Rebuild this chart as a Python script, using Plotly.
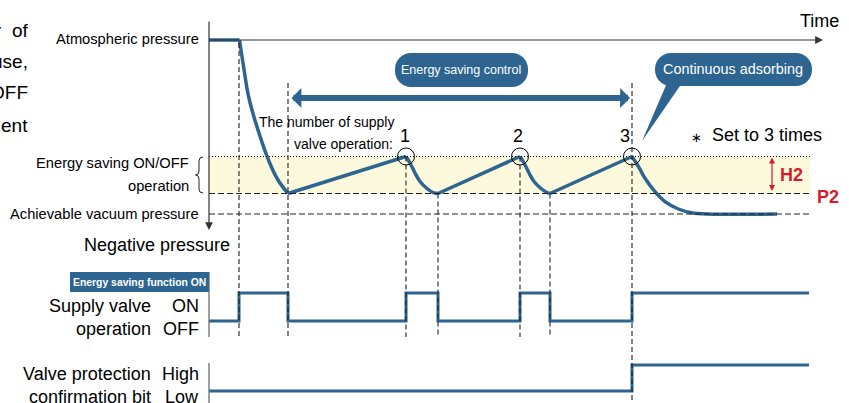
import plotly.graph_objects as go

# ---------------- data (time / pressure in arbitrary units) ----------------
p_atmospheric = 36.3
p_onoff_top = 24.65     # P2 + H2
p_p2 = 20.95
p_achievable = 18.9

hold_t = [0.0, 3.05]
hold_p = [36.3, 36.3]
drop_t = [3.05, 3.4, 3.97, 4.9, 6.07, 6.9, 7.9]
drop_p = [36.3, 34.0, 30.6, 27.3, 24.0, 22.3, 20.95]
rise1_t = [7.9, 19.7]
rise1_p = [20.95, 24.65]
fall1_t = [19.7, 20.1, 20.6, 21.1, 21.8, 22.4, 22.9]
fall1_p = [24.65, 24.0, 23.0, 22.15, 21.45, 21.05, 20.95]
rise2_t = [22.9, 31.1]
rise2_p = [20.95, 24.65]
fall2_t = [31.1, 31.5, 32.0, 32.5, 33.2, 33.8, 34.1]
fall2_p = [24.65, 24.0, 23.0, 22.15, 21.45, 21.05, 20.95]
rise3_t = [34.1, 42.3]
rise3_p = [20.95, 24.65]
final_t = [42.3, 42.95, 43.6, 44.6, 45.6, 46.93, 48.27, 49.9, 56.8]
final_p = [24.65, 23.63, 22.47, 21.13, 20.13, 19.4, 19.03, 18.9, 18.9]

peak_t = [19.7, 31.1, 42.3]
peak_p = [24.65, 24.65, 24.65]
peak_labels = ["1", "2", "3"]

valve_t = [0.0, 3.0, 7.9, 19.7, 22.9, 31.1, 34.1, 42.3, 60.0]
valve_state = [0, 1, 0, 1, 0, 1, 0, 1, 1]
protect_t = [0.0, 42.3, 60.0]
protect_state = [0, 1, 1]

guide_t = [3.0, 7.9, 19.7, 22.9, 31.1, 34.1, 42.3]
guide_top = [36.0, 32.0, 24.65, 20.95, 24.65, 20.95, 32.0]
guide_bottom = [6.6, 6.6, 6.6, 6.6, 6.6, 6.6, 0.0]
t_end = 60.1
control_start, control_end = 8.1, 42.1

# ---------------- styling ----------------
W, H = 849, 403
BLUE = "#2d6590"
RED = "#d91a2a"
NARROW = "Liberation Sans, Arial, sans-serif"
REG = "Liberation Sans, Arial, sans-serif"


def sig_axis(px0, px1, top_px, bot_px):
    k = 1.0 / (px0 - px1)
    return dict(domain=[(H - bot_px) / H, (H - top_px) / H],
                range=[-(bot_px - px0) * k, (px0 - top_px) * k],
                visible=False, anchor="x", fixedrange=True)


fig = go.Figure()

segments = [(hold_t, hold_p, "linear"), (drop_t, drop_p, "spline"),
            (rise1_t, rise1_p, "linear"), (fall1_t, fall1_p, "spline"),
            (rise2_t, rise2_p, "linear"), (fall2_t, fall2_p, "spline"),
            (rise3_t, rise3_p, "linear"), (final_t, final_p, "spline")]
for t, p, shp in segments:
    fig.add_trace(go.Scatter(x=t, y=p, mode="lines", hoverinfo="skip",
                             line=dict(color=BLUE, width=3.5, shape=shp)))

fig.add_trace(go.Scatter(x=peak_t, y=peak_p, mode="markers", hoverinfo="skip",
                         marker=dict(symbol="circle-open", size=17, color="black",
                                     line=dict(width=1, color="black"))))

fig.add_trace(go.Scatter(x=valve_t, y=valve_state, yaxis="y2", mode="lines",
                         hoverinfo="skip", line=dict(color=BLUE, width=3, shape="hv")))
fig.add_trace(go.Scatter(x=protect_t, y=protect_state, yaxis="y3", mode="lines",
                         hoverinfo="skip", line=dict(color=BLUE, width=3, shape="hv")))

shapes = []
shapes.append(dict(type="rect", xref="x", yref="y", x0=0, x1=t_end, y0=p_p2, y1=p_onoff_top,
                   fillcolor="#fdf9dd", line=dict(width=0), layer="below"))
shapes.append(dict(type="line", xref="x", yref="y", x0=0, x1=t_end, y0=p_onoff_top, y1=p_onoff_top,
                   line=dict(color="black", width=1, dash="1px,2px")))
for lvl in (p_p2, p_achievable):
    shapes.append(dict(type="line", xref="x", yref="y", x0=0, x1=t_end, y0=lvl, y1=lvl,
                       line=dict(color="#222", width=1.2, dash="6px,3px")))
for t, a, b in zip(guide_t, guide_top, guide_bottom):
    shapes.append(dict(type="line", xref="x", yref="y", x0=t, x1=t, y0=a, y1=b,
                       line=dict(color="#222", width=1.1, dash="5px,3px")))
shapes.append(dict(type="line", xref="x", yref="y", x0=0, x1=0, y0=13.1, y1=6.6,
                   line=dict(color="#777", width=1.4)))
shapes.append(dict(type="line", xref="x", yref="y", x0=0, x1=0, y0=4.0, y1=0,
                   line=dict(color="#777", width=1.4)))
shapes.append(dict(type="path", xref="x", yref="y",
                   path="M-0.6,24.6 Q-1.0,24.6 -1.0,24.2 L-1.0,23.2 Q-1.0,22.8 -1.35,22.8 "
                        "Q-1.0,22.8 -1.0,22.4 L-1.0,21.4 Q-1.0,21.0 -0.6,21.0",
                   line=dict(color="#222", width=1)))


def rounded_rect(x0, x1, y0, y1, r):
    k = 0.5523 * r
    return (f"M{x0+r},{y0} L{x1-r},{y0} C{x1-r+k},{y0} {x1},{y0+r-k} {x1},{y0+r} "
            f"L{x1},{y1-r} C{x1},{y1-r+k} {x1-r+k},{y1} {x1-r},{y1} "
            f"L{x0+r},{y1} C{x0+r-k},{y1} {x0},{y1-r+k} {x0},{y1-r} "
            f"L{x0},{y0+r} C{x0},{y0+r-k} {x0+r-k},{y0} {x0+r},{y0} Z")


shapes.append(dict(type="path", xref="x", yref="y", path=rounded_rect(18.6, 31.9, 31.6, 35.0, 1.6),
                   fillcolor=BLUE, line=dict(width=0)))
shapes.append(dict(type="path", xref="x", yref="y", path=rounded_rect(44.6, 60.3, 31.7, 35.0, 1.6),
                   fillcolor=BLUE, line=dict(width=0)))
shapes.append(dict(type="path", xref="x", yref="y", path="M45.8,32.0 L43.3,26.2 L47.3,32.0 Z",
                   fillcolor=BLUE, line=dict(width=0)))
shapes.append(dict(type="rect", xref="x", yref="y", x0=-13.9, x1=0, y0=11.1, y1=13.1,
                   fillcolor=BLUE, line=dict(width=0)))

ann = []


def text(x, y, s, size=18, family=REG, color="black", anchor="center", bold=False, **kw):
    if bold:
        s = f"<b>{s}</b>"
    ann.append(dict(x=x, y=y, xref="x", yref="y", text=s, showarrow=False,
                    xanchor=anchor, yanchor="middle",
                    font=dict(size=size, family=family, color=color), **kw))


def arrow(x, y, ax, ay, color, width, head, size, both=False):
    d = dict(x=x, y=y, ax=ax, ay=ay, xref="x", yref="y", axref="x", ayref="y", text="",
             showarrow=True, arrowhead=head, arrowsize=size, arrowwidth=width, arrowcolor=color)
    if both:
        d.update(arrowside="end+start", startarrowhead=head, startarrowsize=size)
    ann.append(d)


arrow(61.4, p_atmospheric, 0, p_atmospheric, "#333", 1.2, 2, 1.3)
arrow(0, 17.3, 0, 38.3, "#333", 1.2, 2, 1.3)
arrow(control_end, 30.5, control_start, 30.5, BLUE, 6, 1, 0.55, both=True)
arrow(56.3, p_onoff_top - 0.1, 56.3, p_p2 + 0.1, RED, 1.2, 2, 1.0, both=True)

for yy, s in [(37.3, "r  of"), (34.2, "use,"), (31.1, "OFF"), (27.8, "ent")]:
    text(-17.9, yy, s, size=19, anchor="right")

text(-0.8, 36.4, "Atmospheric pressure", size=14.7, family=NARROW, anchor="right")
text(-1.8, 24.05, "Energy saving ON/OFF", size=14.7, family=NARROW, anchor="right")
text(-1.8, 21.7, "operation", size=14.7, family=NARROW, anchor="right")
text(-0.8, 18.9, "Achievable vacuum pressure", size=14.7, family=NARROW, anchor="right")
text(-5.2, 15.8, "Negative pressure", size=18)
text(18.7, 28.1, "The number of supply", size=14, family=NARROW, anchor="right")
text(18.6, 25.9, "valve operation:", size=14, family=NARROW, anchor="right")
for t, p, lab, dx in zip(peak_t, peak_p, peak_labels, [-1, -2, -7]):
    ann.append(dict(x=t, y=p, xref="x", yref="y", text=lab, showarrow=False, yshift=21, xshift=dx,
                    font=dict(size=18, family=REG, color="black")))
text(25.2, 33.3, "Energy saving control", size=12.5, family=NARROW, color="white")
text(52.4, 33.4, "Continuous adsorbing", size=14.4, family=NARROW, color="white")
text(61.0, 38.2, "Time", size=18)
text(48.7, 26.6, "∗", size=13)
text(50.1, 26.8, "Set to 3 times", size=18, anchor="left")
text(56.9, 22.85, "H2", size=18, color=RED, anchor="left", bold=True)
text(60.6, 20.6, "P2", size=18, color=RED, anchor="left", bold=True)
text(-7.0, 12.1, "Energy saving function ON", size=10.4, family=NARROW, color="white", bold=True)
text(-5.6, 9.75, "Supply valve", size=18, anchor="right")
text(-5.6, 7.45, "operation", size=18, anchor="right")
text(-0.8, 9.75, "ON", size=18, anchor="right")
text(-0.8, 7.45, "OFF", size=18, anchor="right")
text(-5.6, 2.95, "Valve protection", size=18, anchor="right")
text(-5.6, 0.65, "confirmation bit", size=18, anchor="right")
text(-0.8, 2.95, "High", size=18, anchor="right")
text(-0.8, 0.65, "Low", size=18, anchor="right")

fig.update_layout(
    width=W, height=H, margin=dict(l=0, r=0, t=0, b=0),
    paper_bgcolor="white", plot_bgcolor="rgba(0,0,0,0)", showlegend=False,
    xaxis=dict(range=[-20.9, 64.0], visible=False, fixedrange=True),
    yaxis=dict(range=[0, 40.3], visible=False, fixedrange=True),
    yaxis2=sig_axis(321, 293, 262, 345),
    yaxis3=sig_axis(391, 365, 350, 403),
    shapes=shapes, annotations=ann,
)

fig.write_html("out.html", config={"displayModeBar": False},
               post_script="document.body.style.margin='0px';")
